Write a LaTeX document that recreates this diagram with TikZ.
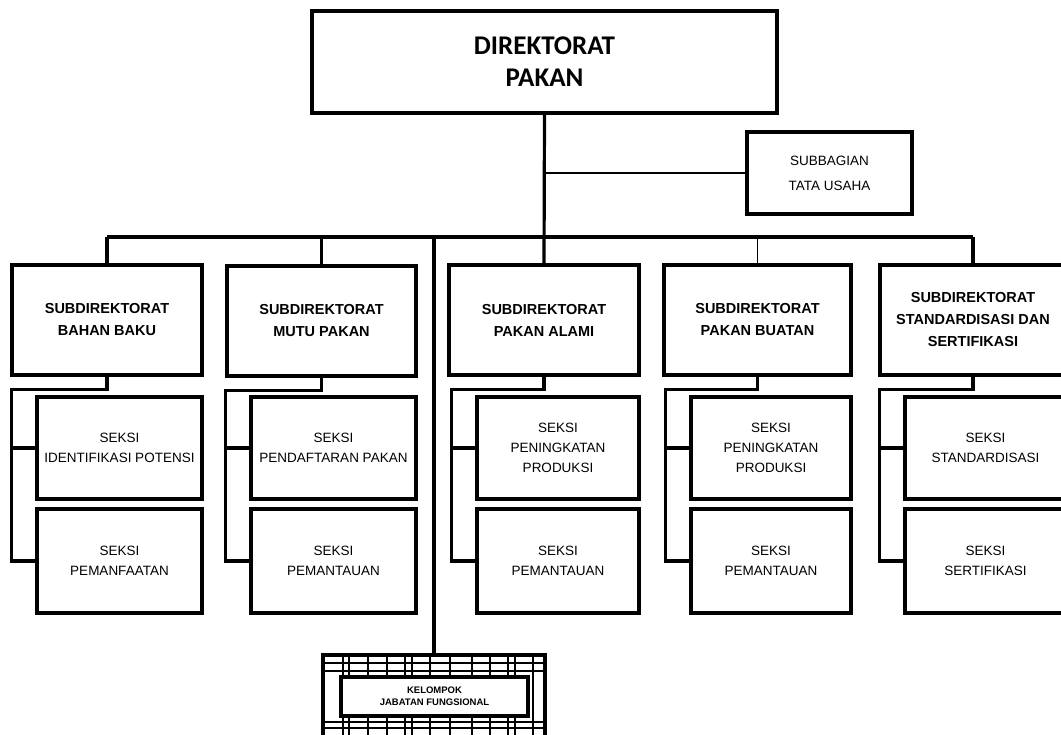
\documentclass[tikz,border=0pt]{standalone}
\usepackage{fontspec}
\setmainfont{Liberation Sans}
\newfontfamily\hdfont{Carlito}
\begin{document}
\begin{tikzpicture}[x=1pt,y=-1pt,
  box/.style={draw=black, line width=3.2pt, align=center, inner sep=0pt, fill=white},
  head/.style={box, font=\hdfont\bfseries\fontsize{27}{32}\selectfont},
  subd/.style={box, minimum height=110pt, font=\bfseries\fontsize{14.5}{22}\selectfont},
  sec/.style={box, font=\fontsize{13.5}{20}\selectfont},
  con/.style={line width=3.2pt},
  thinline/.style={line width=1.8pt},
  gridline/.style={line width=1.3pt},
]
\useasboundingbox (0,0) rectangle (1061,735);
\fill[white] (0,0) rectangle (1061,735);

% top
\node[head, minimum width=465pt, minimum height=102pt] (dir) at (544.5,62) {DIREKTORAT\\PAKAN};
\node[box, minimum width=165pt, minimum height=82pt, font=\fontsize{13.5}{25}\selectfont] (sub) at (829.5,173) {SUBBAGIAN\\TATA USAHA};

% subdirectorates
\node[subd, minimum width=190pt] (b1) at (107,320) {SUBDIREKTORAT\\BAHAN BAKU};
\node[subd, minimum width=189pt] (b2) at (321.5,321) {SUBDIREKTORAT\\MUTU PAKAN};
\node[subd, minimum width=190pt] (b3) at (544,320) {SUBDIREKTORAT\\PAKAN ALAMI};
\node[subd, minimum width=187pt] (b4) at (757.5,320) {SUBDIREKTORAT\\PAKAN BUATAN};
\node[subd, minimum width=186pt] (b5) at (973,320) {SUBDIREKTORAT\\STANDARDISASI DAN\\SERTIFIKASI};

% sections
\node[sec, minimum width=165pt, minimum height=102pt] (s1a) at (119.5,448) {SEKSI\\IDENTIFIKASI POTENSI};
\node[sec, minimum width=165pt, minimum height=104pt] (s1b) at (119.5,561) {SEKSI\\PEMANFAATAN};
\node[sec, minimum width=165pt, minimum height=102pt] (s2a) at (333.5,448) {SEKSI\\PENDAFTARAN PAKAN};
\node[sec, minimum width=165pt, minimum height=104pt] (s2b) at (333.5,561) {SEKSI\\PEMANTAUAN};
\node[sec, minimum width=162pt, minimum height=102pt] (s3a) at (558,448) {SEKSI\\PENINGKATAN\\PRODUKSI};
\node[sec, minimum width=162pt, minimum height=104pt] (s3b) at (558,561) {SEKSI\\PEMANTAUAN};
\node[sec, minimum width=160pt, minimum height=102pt] (s4a) at (771,448) {SEKSI\\PENINGKATAN\\PRODUKSI};
\node[sec, minimum width=160pt, minimum height=104pt] (s4b) at (771,561) {SEKSI\\PEMANTAUAN};
\node[sec, minimum width=161pt, minimum height=102pt] (s5a) at (985.5,448) {SEKSI\\STANDARDISASI};
\node[sec, minimum width=161pt, minimum height=104pt] (s5b) at (985.5,561) {SEKSI\\SERTIFIKASI};

% kelompok jabatan fungsional
\node[draw=black, line width=3.2pt, minimum width=222pt, minimum height=90pt, inner sep=0pt] (kf) at (434,700) {};
\begin{scope}
  \clip (kf.south west) rectangle (kf.north east);
  \foreach \gx in {343,349,368,387,405,412,430,450,472,490,508,515,533}
    \draw[gridline] (\gx,655) -- (\gx,745);
  \foreach \gy in {663,671,722,728}
    \draw[gridline] (323,\gy) -- (545,\gy);
\end{scope}
\node[box, minimum width=187pt, minimum height=39pt, font=\bfseries\fontsize{9.5}{12}\selectfont] (kin) at (434.5,696.5) {KELOMPOK\\JABATAN FUNGSIONAL};

% connectors
\coordinate (bar) at (0,237);
\draw[con] (dir.south) -- (b3.north);
\draw[thinline] (dir.south |- sub.west) -- (sub.west);
\draw[con] (b1.north |- bar) -- (b5.north |- bar);
\draw[con] (b1.north |- bar) -- (b1.north);
\draw[con] (b2.north |- bar) -- (b2.north);
\draw[thinline] (b4.north |- bar) -- (b4.north);
\draw[con] (b5.north |- bar) -- (b5.north);
\draw[con] (kf.north |- bar) -- (kf.north);

\foreach \i in {1,...,5}{
  \draw[con] (b\i.south) -- ++(0,13) -| ([xshift=-24pt]s\i b.west) -- (s\i b.west);
  \draw[con] (s\i a.west) -- ++(-24,0);
}
\end{tikzpicture}
\end{document}
